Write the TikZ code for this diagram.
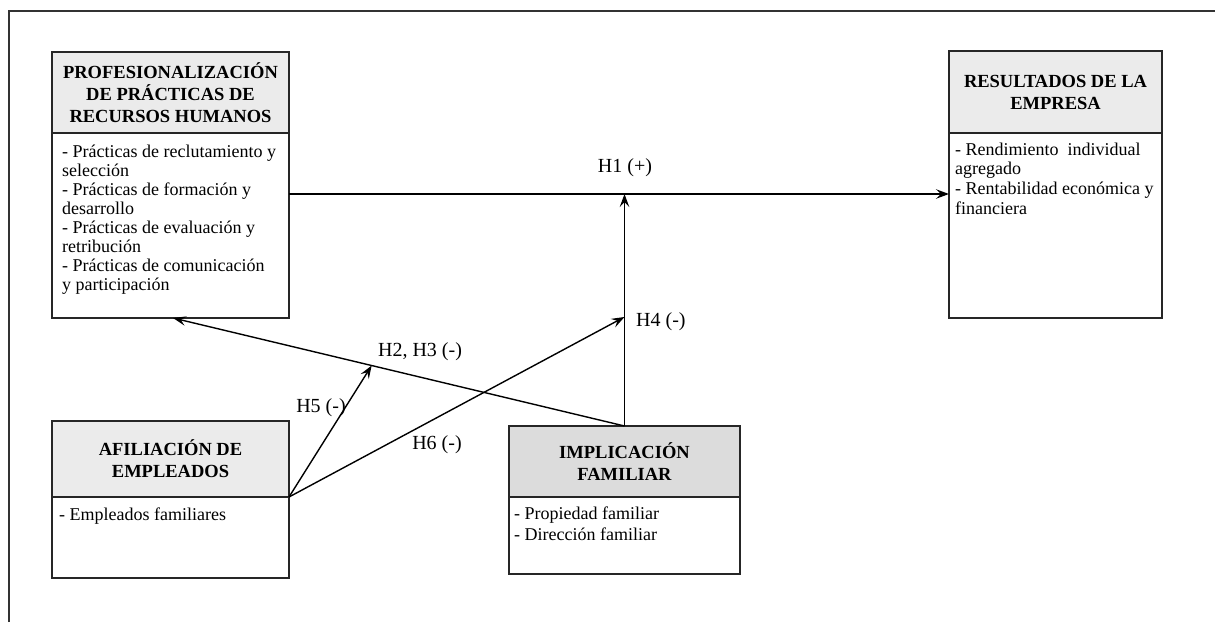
\documentclass[tikz,border=0pt]{standalone}
\usepackage{fontspec}
\setmainfont{Liberation Serif}
\usetikzlibrary{arrows.meta,calc}
\definecolor{headgray}{HTML}{EBEBEB}
\definecolor{headdark}{HTML}{DCDCDC}
% top-aligned block of lines with a fixed line pitch
\newcommand{\linesbox}[2]{\parbox[t]{#1}{\lineskiplimit=-100pt\raggedright #2}}

\begin{document}
\begin{tikzpicture}[x=1pt,y=-1pt,
  box/.style={draw=black!85, line width=1.3pt, inner sep=0pt, outer sep=0pt, anchor=north west},
  head/.style={box, align=center, font=\fontsize{18.5}{22}\selectfont\bfseries},
  bodytext/.style={anchor=base west, inner sep=0pt, font=\fontsize{18}{19}\selectfont},
  hyp/.style={inner sep=0pt, font=\fontsize{20}{24}\selectfont},
  arr/.style={draw=black, line width=1.4pt, -{Stealth[length=13pt,width=9.5pt,inset=5pt]}},
  frame/.style={line width=2.4pt, draw=black!80}]
\useasboundingbox (0,0) rectangle (1215,622);

% outer frame (top and left edges)
\draw[frame] (9,622) -- (9,11) -- (1215,11);

% HR practices
\node[head, fill=headgray, minimum width=237pt, minimum height=81pt] (h1) at (52,52)
  {PROFESIONALIZACIÓN\\DE PRÁCTICAS DE\\RECURSOS HUMANOS};
\node[box, minimum width=237pt, minimum height=185pt] (b1) at (52,133) {};
\node[bodytext] (t1) at (62,157) {\linesbox{226pt}{- Prácticas de reclutamiento y\\selección\\- Prácticas de formación y\\desarrollo\\- Prácticas de evaluación y\\retribución\\- Prácticas de comunicación\\y participación}};

% firm results
\node[head, fill=headgray, minimum width=213pt, minimum height=82pt] (h2) at (949,51)
  {RESULTADOS DE LA\\EMPRESA};
\node[box, minimum width=213pt, minimum height=185pt] (b2) at (949,133) {};
\node[bodytext, font=\fontsize{18}{19.7}\selectfont] (t2) at (955,155) {\linesbox{205pt}{- Rendimiento\ \ individual\\agregado\\- Rentabilidad económica y\\financiera}};

% employee affiliation
\node[head, fill=headgray, minimum width=237pt, minimum height=76pt] (h3) at (52,421)
  {AFILIACIÓN DE\\EMPLEADOS};
\node[box, minimum width=237pt, minimum height=81pt] (b3) at (52,497) {};
\node[bodytext] (t3) at (59,520) {- Empleados familiares};

% family involvement
\node[head, fill=headdark, minimum width=231pt, minimum height=71pt] (h4) at (509,426)
  {IMPLICACIÓN\\FAMILIAR};
\node[box, minimum width=231pt, minimum height=77pt] (b4) at (509,497) {};
\node[bodytext, font=\fontsize{18}{21}\selectfont] (t4) at (514,519) {\linesbox{220pt}{- Propiedad familiar\\- Dirección familiar}};

% connectors
\coordinate (p1) at ([yshift=-61pt]b1.north east);
\coordinate (p2) at ([yshift=-61pt]b2.north west);
\coordinate (j4) at (h4.north |- p1);
\coordinate (p3) at ([xshift=121pt]b1.south west);
\draw[arr] (p1) -- (p2);
\draw[arr] (h4.north) -- (j4);
\draw[arr] (h4.north) -- (p3);
\coordinate (t6) at ($(h4.north)!0.47!(j4)$);
\coordinate (t5) at ($(h4.north)!0.56!(p3)$);
\draw[arr] (h3.south east) -- (t6);
\draw[arr] (h3.south east) -- (t5);

% hypothesis labels
\node[hyp] (l1) at (625,168) {H1 (+)};
\node[hyp, anchor=west] (l4) at (636,322) {H4 (-)};
\node[hyp] (l23) at (420,352) {H2, H3 (-)};
\node[hyp] (l5) at (321,408) {H5 (-)};
\node[hyp] (l6) at (437,445) {H6 (-)};
\end{tikzpicture}
\end{document}
